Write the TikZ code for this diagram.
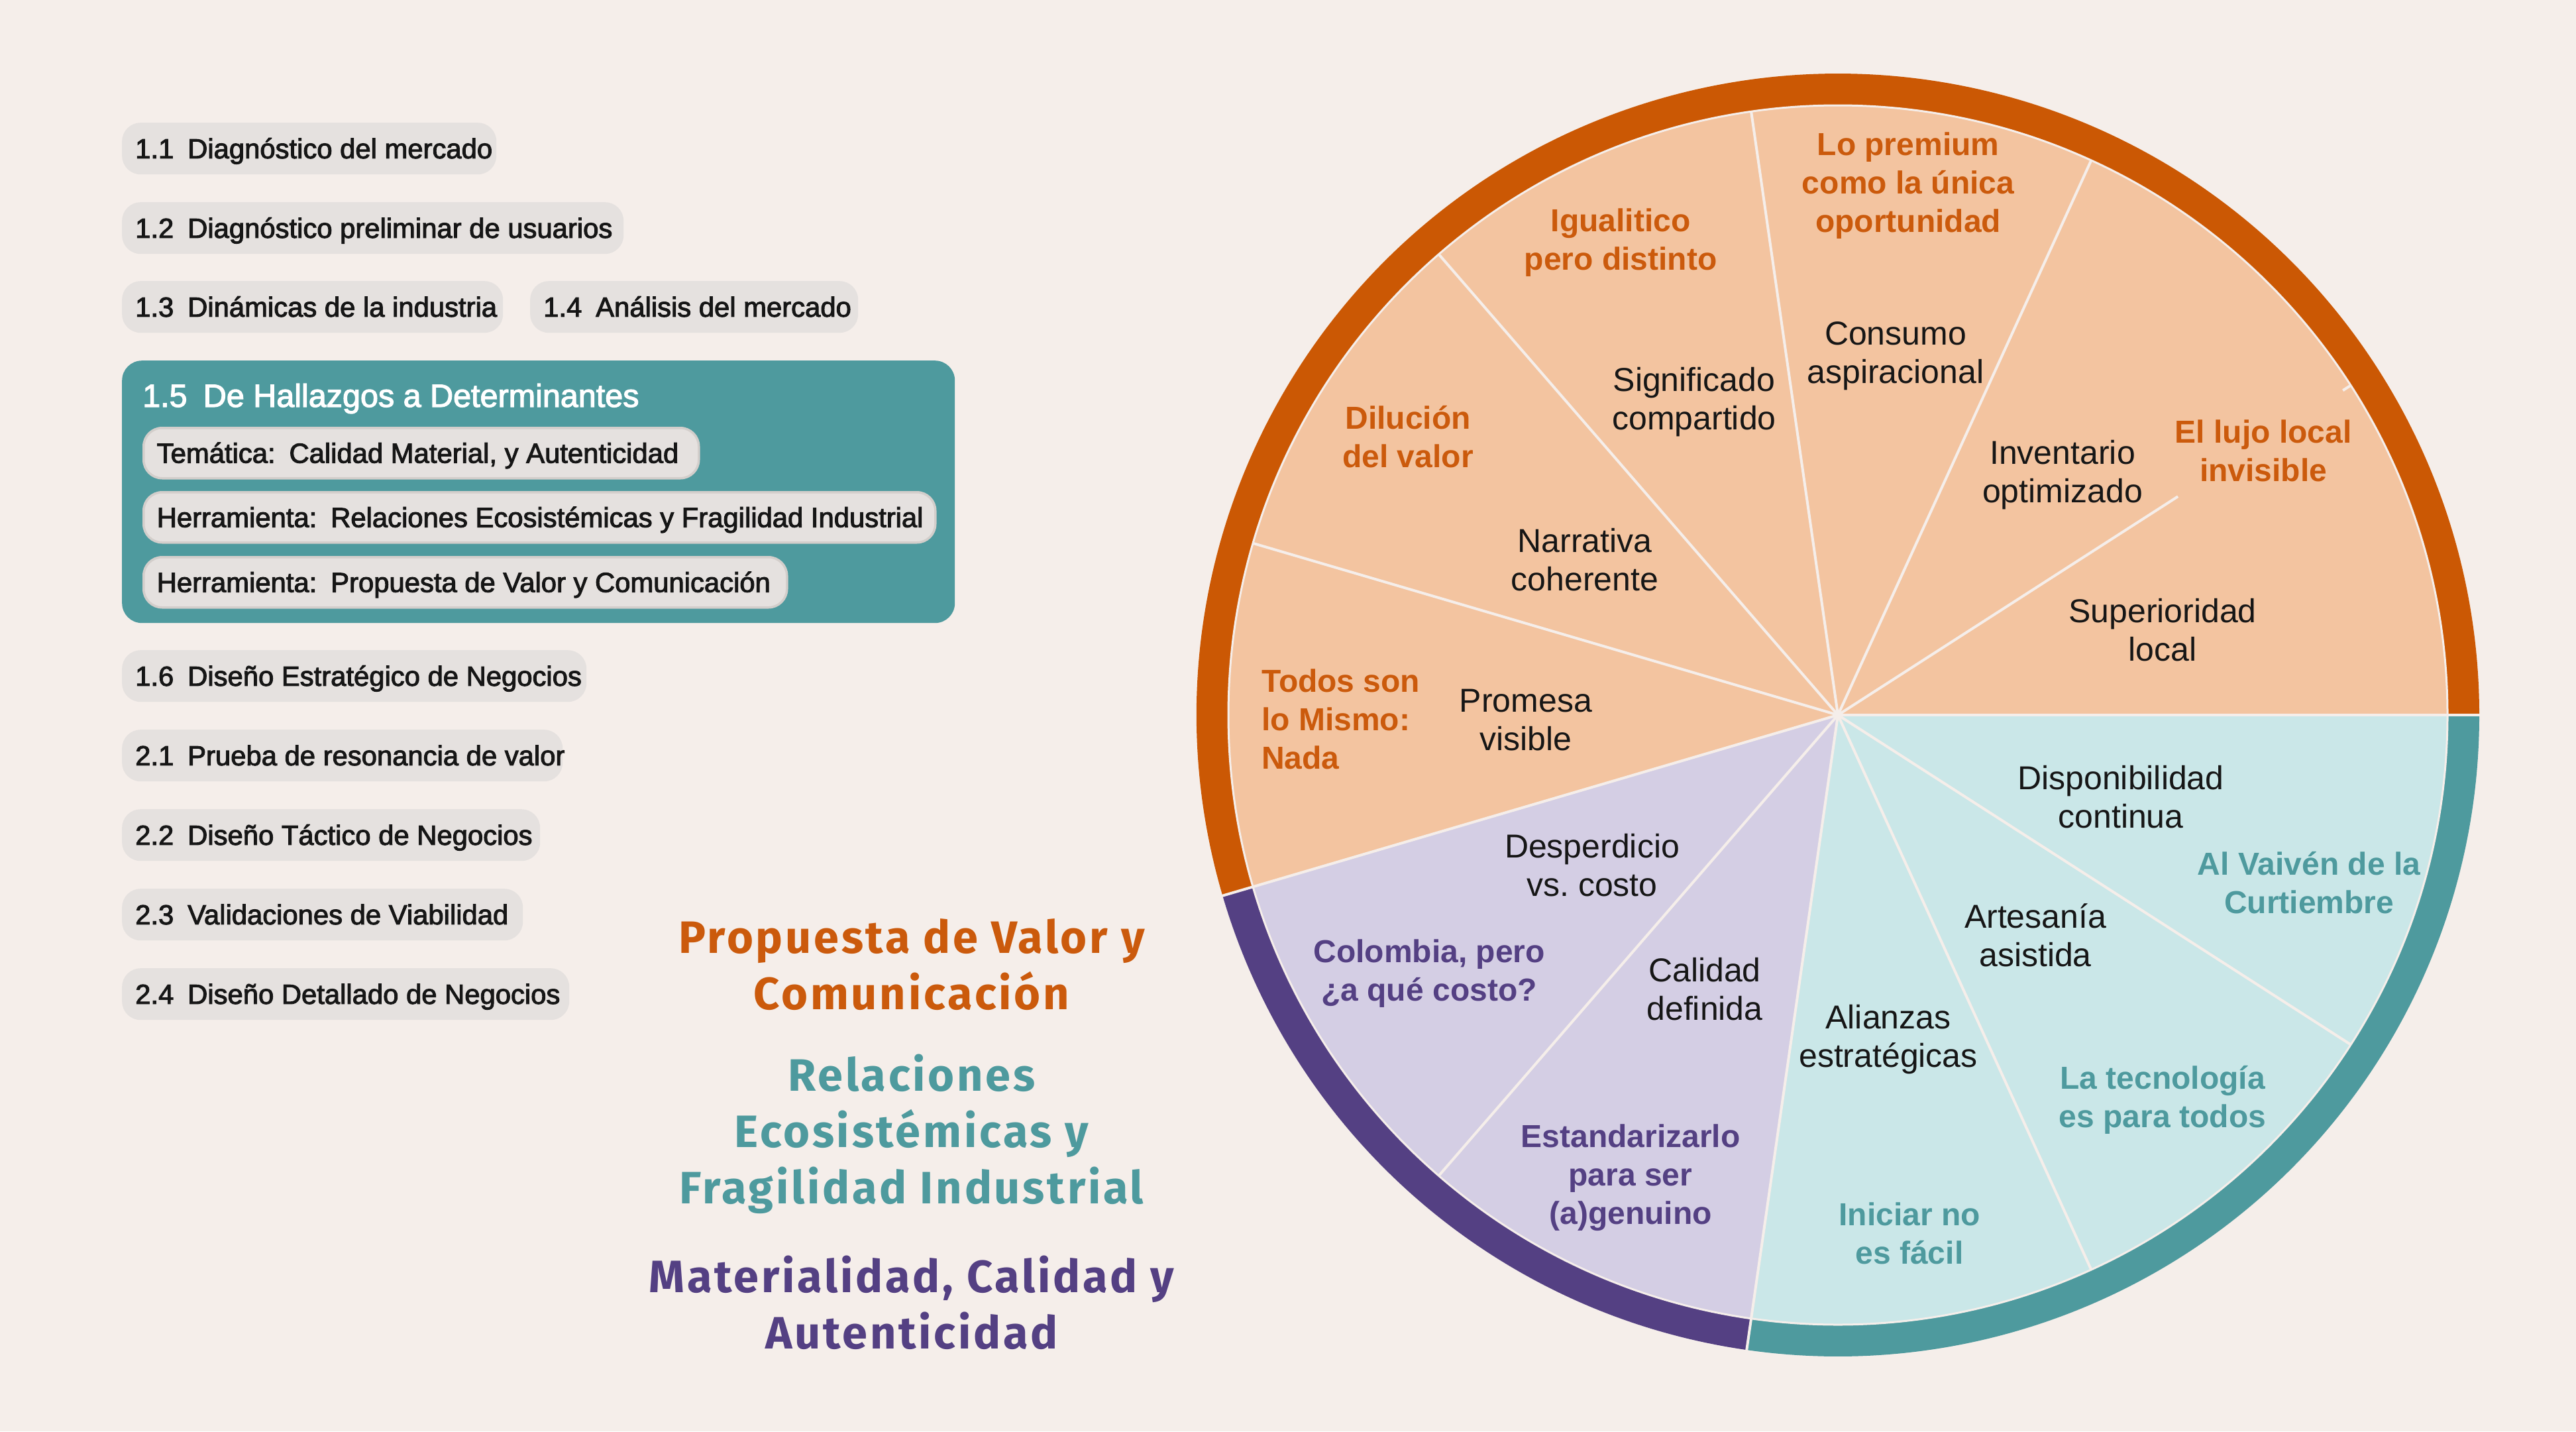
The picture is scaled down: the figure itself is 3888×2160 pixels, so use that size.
\documentclass[tikz,border=0pt]{standalone}
\usepackage{fontspec}
\setmainfont{Liberation Sans}
\newfontfamily\medfont{Liberation Sans}[FakeBold=2.5]
\newfontfamily\headfont{Fira Sans}[LetterSpace=5.5]
\definecolor{bg}{HTML}{F5EEEA}
\definecolor{boxgrey}{HTML}{E5E1DF}
\definecolor{pillline}{HTML}{D3CECB}
\definecolor{tealbox}{HTML}{4E9A9E}
\definecolor{ink}{HTML}{161616}
\definecolor{oring}{HTML}{CB5804}
\definecolor{ofill}{HTML}{F3C4A0}
\definecolor{otext}{HTML}{CB5A0C}
\definecolor{pring}{HTML}{544083}
\definecolor{pfill}{HTML}{D4CEE4}
\definecolor{ptext}{HTML}{544083}
\definecolor{tring}{HTML}{4E9A9E}
\definecolor{tfill}{HTML}{CAE7E8}
\definecolor{ttext}{HTML}{4E9A9E}
\newcommand\boxfnt{\medfont\fontsize{41.8}{49}\selectfont}
\newcommand\ttlfnt{\medfont\fontsize{48.5}{56}\selectfont}
\newcommand\lblfnt{\fontsize{50}{58}\selectfont}
\newcommand\bldfnt{\bfseries\fontsize{48}{58}\selectfont}
\newcommand\hdfnt{\headfont\bfseries\fontsize{68.5}{85}\selectfont}
\newcommand\pbox[2]{\makebox[#1][l]{#2}}
\frenchspacing
\begin{document}
\begin{tikzpicture}[x=1pt,y=-1pt,
  pillbox/.style={fill=boxgrey, rounded corners=28pt, inner xsep=20pt, inner ysep=0pt,
    minimum height=78pt, text height=29.5pt, text depth=0pt, anchor=north west,
    font=\boxfnt, text=ink},
  innerpill/.style={pillbox, draw=pillline, line width=3.5pt, minimum height=76pt},
  blk/.style={font=\lblfnt, text=ink, align=center, inner sep=0pt},
  bld/.style={font=\bldfnt, align=center, inner sep=0pt},
  head/.style={font=\hdfnt, align=center, inner sep=0pt},
  sep/.style={draw=bg, line width=4pt}]
\useasboundingbox[fill=bg] (0,0) rectangle (3888,2160);

% ---------- left column ----------
\node[pillbox] (b11) at (184,185) {\pbox{525pt}{1.1\enspace Diagnóstico del mercado}};
\node[pillbox] (b12) at (184,305) {\pbox{717pt}{1.2\enspace Diagnóstico preliminar de usuarios}};
\node[pillbox] (b13) at (184,424) {\pbox{535pt}{1.3\enspace Dinámicas de la industria}};
\node[pillbox] (b14) at (800,424) {\pbox{455pt}{1.4\enspace Análisis del mercado}};

\node[fill=tealbox, rounded corners=30pt, anchor=north west, minimum width=1257pt,
  minimum height=396pt, inner sep=0pt] (box15) at (184,544) {};
\node[anchor=west, text=white, font=\ttlfnt, inner sep=0pt, text height=34pt, text depth=0pt]
  (ttl) at (215,597) {1.5\enspace De Hallazgos a Determinantes};
\node[innerpill] (p1) at (215,644) {\pbox{798pt}{Temática:\enspace Calidad Material, y Autenticidad}};
\node[innerpill] (p2) at (215,741) {\pbox{1155pt}{Herramienta:\enspace Relaciones Ecosistémicas y Fragilidad Industrial}};
\node[innerpill] (p3) at (215,839) {\pbox{931pt}{Herramienta:\enspace Propuesta de Valor y Comunicación}};

\node[pillbox] (b16) at (184,981) {\pbox{661pt}{1.6\enspace Diseño Estratégico de Negocios}};
\node[pillbox] (b21) at (184,1101) {\pbox{625pt}{2.1\enspace Prueba de resonancia de valor}};
\node[pillbox] (b22) at (184,1221) {\pbox{591pt}{2.2\enspace Diseño Táctico de Negocios}};
\node[pillbox] (b23) at (184,1341) {\pbox{565pt}{2.3\enspace Validaciones de Viabilidad}};
\node[pillbox] (b24) at (184,1461) {\pbox{635pt}{2.4\enspace Diseño Detallado de Negocios}};

% ---------- headlines ----------
\node[head, text=otext] (h1) at (1376,1456) {Propuesta de Valor y\\Comunicación};
\node[head, text=ttext] (h2) at (1376,1711) {Relaciones\\Ecosistémicas y\\Fragilidad Industrial};
\node[head, text=ptext] (h3) at (1376,1966) {Materialidad, Calidad y\\Autenticidad};

% ---------- wheel ----------
\coordinate (C) at (2774,1079);
\begin{scope}[shift={(C)}, yscale=-1]
  \fill[ofill] (0,0) -- (0:920) arc[start angle=0, end angle=196.3636, radius=920] -- cycle;
  \fill[pfill] (0,0) -- (196.3636:920) arc[start angle=196.3636, end angle=261.8182, radius=920] -- cycle;
  \fill[tfill] (0,0) -- (261.8182:920) arc[start angle=261.8182, end angle=360, radius=920] -- cycle;
  \fill[oring] (0:920) arc[start angle=0, end angle=196.3636, radius=920]
     -- (196.3636:968) arc[start angle=196.3636, end angle=0, radius=968] -- cycle;
  \fill[pring] (196.3636:920) arc[start angle=196.3636, end angle=261.8182, radius=920]
     -- (261.8182:968) arc[start angle=261.8182, end angle=196.3636, radius=968] -- cycle;
  \fill[tring] (261.8182:920) arc[start angle=261.8182, end angle=360, radius=920]
     -- (360:968) arc[start angle=360, end angle=261.8182, radius=968] -- cycle;
  \draw[bg, line width=3pt] (0,0) circle[radius=920];
  \foreach \k in {2,3,4,5,7,9,10} \draw[sep] (0,0) -- ({\k*360/11}:920);
  \foreach \k in {0,6,8} \draw[sep] (0,0) -- ({\k*360/11}:972);
  \draw[sep] (0,0) -- (32.7273:610);
  \draw[sep] (32.7273:906) -- (32.7273:920);
\end{scope}

% ---------- wheel labels ----------
\node[blk] (l0) at (3264,951) {Superioridad\\local};
\node[blk] (l1) at (3113,717) {Inventario\\optimizado};
\node[blk] (l2) at (2861,537) {Consumo\\aspiracional};
\node[blk] (l3) at (2557,607) {Significado\\compartido};
\node[blk] (l4) at (2392,845) {Narrativa\\coherente};
\node[blk] (l5) at (2303,1087) {Promesa\\visible};
\node[blk] (l6) at (2403,1306) {Desperdicio\\vs. costo};
\node[blk] (l7) at (2573,1493) {Calidad\\definida};
\node[blk] (l8) at (2850,1569) {Alianzas\\estratégicas};
\node[blk] (l9) at (3072,1411) {Artesanía\\asistida};
\node[blk] (l10) at (3201,1203) {Disponibilidad\\continua};

\node[bld, text=otext] (t0) at (3416,680) {El lujo local\\invisible};
\node[bld, text=otext] (t2) at (2880,280) {Lo premium\\como la única\\oportunidad};
\node[bld, text=otext] (t3) at (2446,366) {Igualitico\\pero distinto};
\node[bld, text=otext] (t4) at (2125,659) {Dilución\\del valor};
\node[bld, text=otext, align=left, anchor=west] (t5) at (1904,1085) {Todos son\\lo Mismo:\\Nada};
\node[bld, text=ptext] (t6) at (2157,1469) {Colombia, pero\\¿a qué costo?};
\node[bld, text=ptext] (t7) at (2461,1777) {Estandarizarlo\\para ser\\(a)genuino};
\node[bld, text=ttext] (t8) at (2882,1861) {Iniciar no\\es fácil};
\node[bld, text=ttext] (t9) at (3264,1660) {La tecnología\\es para todos};
\node[bld, text=ttext] (t10) at (3485,1332) {Al Vaivén de la\\Curtiembre};
\end{tikzpicture}
\end{document}
